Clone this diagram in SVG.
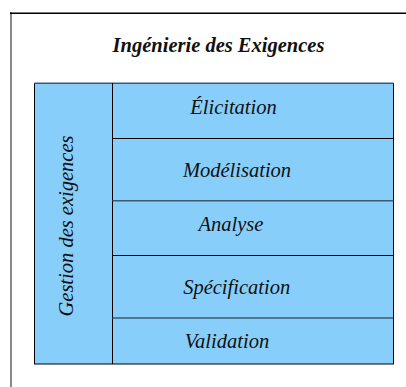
<svg xmlns="http://www.w3.org/2000/svg" width="406" height="387" viewBox="0 0 406 387">
<style>
.lbl{font-family:'Liberation Serif','Times New Roman',serif;font-style:italic;font-size:20.5px;fill:#111;text-anchor:middle}
.title{font-family:'Liberation Serif','Times New Roman',serif;font-style:italic;font-weight:bold;font-size:20.5px;fill:#111;text-anchor:middle}
.cell{fill:#87CEFA;stroke:none}
.ln{stroke:#000;stroke-width:1;fill:none}
.soft{stroke:#3d5a73;stroke-width:1.6;fill:none}
</style>
<rect x="0" y="0" width="406" height="387" fill="#fff"/>
<g id="frame">
<line x1="11" y1="12" x2="11" y2="387" stroke="#888" stroke-width="2"/>
<line x1="10" y1="13.3" x2="406" y2="13.3" stroke="#000" stroke-width="1.4"/>
<text class="title" x="218.5" y="52">Ingénierie des Exigences</text>
</g>
<g id="gestion">
<rect class="cell" x="34.5" y="83.5" width="78" height="280.5"/>
<text class="lbl" transform="translate(73,226) rotate(-90)" x="0" y="0">Gestion des exigences</text>
</g>
<g id="elicitation">
<rect class="cell" x="112.5" y="83.5" width="281" height="55"/>
<text class="lbl" x="233.5" y="114">Élicitation</text>
</g>
<g id="modelisation">
<rect class="cell" x="112.5" y="138.5" width="281" height="62"/>
<text class="lbl" x="237" y="176.7">Modélisation</text>
</g>
<g id="analyse">
<rect class="cell" x="112.5" y="200.5" width="281" height="55"/>
<text class="lbl" x="231" y="230.7">Analyse</text>
</g>
<g id="specification">
<rect class="cell" x="112.5" y="255.5" width="281" height="62.5"/>
<text class="lbl" x="236.7" y="293.7">Spécification</text>
</g>
<g id="validation">
<rect class="cell" x="112.5" y="318" width="281" height="46"/>
<text class="lbl" x="227" y="347.7">Validation</text>
</g>
<g id="connectors">
<rect class="ln" x="34.5" y="83.5" width="359" height="280.5"/>
<line class="soft" x1="34.5" y1="83.3" x2="393.5" y2="83.3"/>
<line class="ln" x1="112.5" y1="83" x2="112.5" y2="364"/>
<line class="ln" x1="112.5" y1="138.5" x2="393.5" y2="138.5"/>
<line class="soft" x1="112.5" y1="200.8" x2="393.5" y2="200.8"/>
<line class="ln" x1="112.5" y1="255.5" x2="393.5" y2="255.5"/>
<line class="soft" x1="112.5" y1="318" x2="393.5" y2="318"/>
</g>
</svg>
